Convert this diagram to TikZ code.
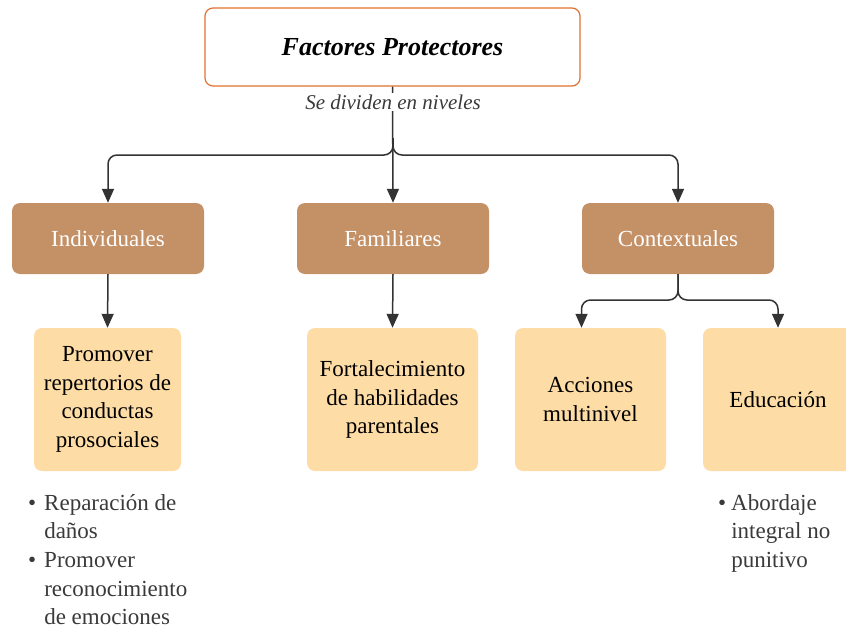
\documentclass[tikz,border=0pt]{standalone}
\usepackage{fontspec}
\setmainfont{Liberation Serif}
\usetikzlibrary{arrows.meta}
\definecolor{edgeorange}{HTML}{E2712F}
\definecolor{levelbrown}{HTML}{C49167}
\definecolor{leafyellow}{HTML}{FEDCA5}
\definecolor{linegray}{HTML}{333333}
\definecolor{notegray}{HTML}{3A3A3A}
\begin{document}
\begin{tikzpicture}[x=1pt,y=-1pt,
	titlebox/.style={draw=edgeorange,line width=1.2pt,fill=white,rounded corners=8pt,minimum width=375pt,minimum height=78pt,font=\fontsize{26}{31}\selectfont\bfseries\itshape},
	levelbox/.style={fill=levelbrown,rounded corners=8pt,minimum width=192pt,minimum height=71pt,text=white,font=\fontsize{23}{28}\selectfont},
	leafbox/.style={fill=leafyellow,rounded corners=8pt,minimum height=143pt,align=center,inner sep=0pt,font=\fontsize{23}{28.7}\selectfont},
	conn/.style={draw=linegray,line width=1.5pt,-{Triangle[length=14pt,width=12pt]}},
	note/.style={anchor=north west,inner sep=0pt,text=notegray,font=\fontsize{23}{28.6}\selectfont}]
		\useasboundingbox (0,0) rectangle (846,629);
		%top
		\node[titlebox] (top) at (392.5,47) {Factores Protectores};
		
		%levels
		\node[levelbox] (ind) at (108,238.5) {Individuales};
		\node[levelbox] (fam) at (393,238.5) {Familiares};
		\node[levelbox] (ctx) at (678,238.5) {Contextuales};
		
		%leaves
		\node[leafbox,minimum width=147pt] (prom) at (107.5,399.5) {Promover\\repertorios de\\conductas\\prosociales};
		\node[leafbox,minimum width=171pt] (fort) at (392.5,399.5) {Fortalecimiento\\de habilidades\\parentales};
		\node[leafbox,minimum width=151pt] (acc) at (590.5,399.5) {Acciones\\multinivel};
		\node[leafbox,minimum width=150pt] (edu) at (778,399.5) {Educación};
		
		%connectors
		\coordinate (split) at (393,138);
		\coordinate (fork) at (393,155);
		\coordinate (cfork) at (678,300);
		\draw[conn] (top.south) -- (fam.north);
		\draw[conn,rounded corners=9pt] (split) -- (fork) -| (ind.north);
		\draw[conn,rounded corners=9pt] (split) -- (fork) -| (ctx.north);
		\draw[conn] (ind.south) -- (prom.north);
		\draw[conn] (fam.south) -- (fort.north);
		\draw[conn,rounded corners=9pt] (ctx.south) -- (cfork) -| ([xshift=-9pt]acc.north);
		\draw[conn,rounded corners=9pt] (ctx.south) -- (cfork) -| (edu.north);
		\node[fill=white,inner sep=2pt,text=notegray,font=\fontsize{21}{25}\selectfont\itshape] (lbl) at (393,102) {Se dividen en niveles};
		
		%notes
		\node[note] (indnote) at (28,490) {\begin{tabular}{@{}l@{\hspace{8pt}}l@{}}
			\textbullet & Reparación de\\
			 & daños\\
			\textbullet & Promover\\
			 & reconocimiento\\
			 & de emociones
		\end{tabular}};
		\node[note] (edunote) at (718,490) {\begin{tabular}{@{}l@{\hspace{5pt}}l@{}}
			\textbullet & Abordaje\\
			 & integral no\\
			 & punitivo
		\end{tabular}};
\end{tikzpicture}
\end{document}
